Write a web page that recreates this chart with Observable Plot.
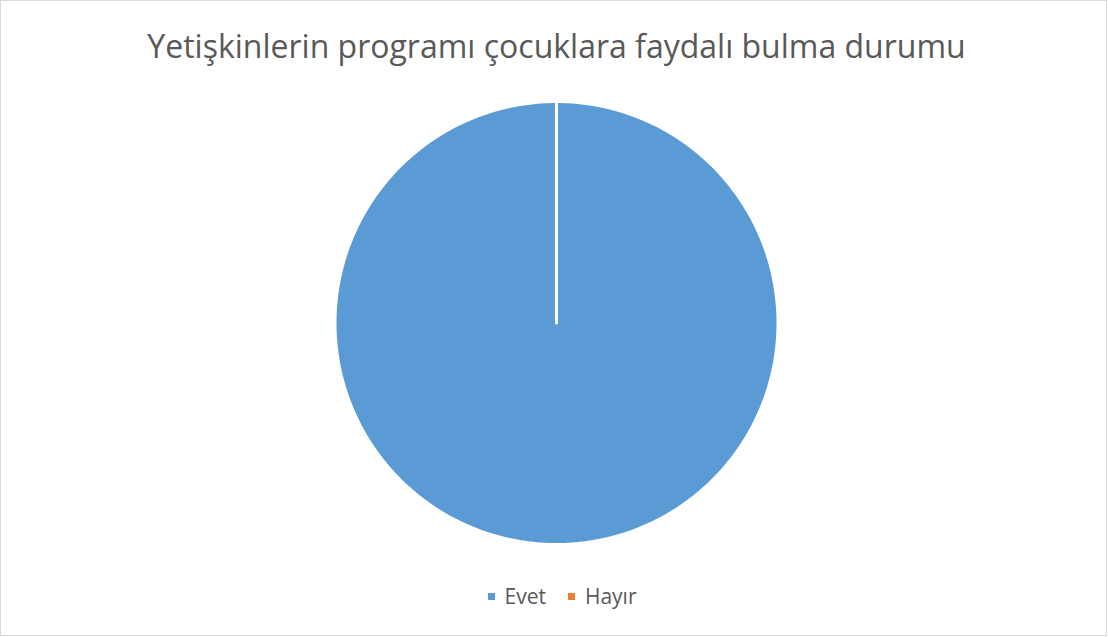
<!DOCTYPE html>
<html>
<head>
<meta charset="utf-8">
<script src="https://cdn.jsdelivr.net/npm/d3@7"></script>
<script src="https://cdn.jsdelivr.net/npm/@observablehq/plot@0.6"></script>
<style>
  html, body { margin: 0; padding: 0; background: #fff; }
  #chart { position: relative; width: 1108px; height: 637px; overflow: hidden; font-family: "Open Sans", sans-serif; }
  #frame { position: absolute; left: 0; top: 0; width: 1105px; height: 634px; border: 1px solid #d9d9d9; box-sizing: content-box; pointer-events: none; }
  #title { position: absolute; left: 0; width: 1113px; top: 24px; text-align: center; font-size: 32px; color: #595959; white-space: nowrap; }
  #legend { position: absolute; left: 8px; width: 1108px; top: 582px; display: flex; justify-content: center; gap: 22px; font-size: 21px; color: #595959; }
  .item { display: flex; align-items: center; gap: 10px; }
  .sw { width: 7px; height: 7px; display: inline-block; margin-top: 1px; }
  #plot { position: absolute; left: 0; top: 0; }
</style>
</head>
<body>
<div id="chart">
  <div id="plot"></div>
  <div id="title"></div>
  <div id="legend"></div>
  <div id="frame"></div>
</div>
<script>
const titleText = "Yetişkinlerin programı çocuklara faydalı bulma durumu";
const categories = ["Evet", "Hayır"];
const values = [100, 0];
const colors = ["#5b9bd5", "#ed7d31"];

const data = categories.map((c, i) => ({category: c, value: values[i]}));
const arcs = d3.pie().sort(null).value(d => d.value)(data);

// Build slice outlines in unit data space (angles from d3.pie, clockwise from top)
const pts = [];
for (const a of arcs) {
  const cat = a.data.category;
  pts.push({category: cat, u: 0, v: 0});
  const n = Math.max(2, Math.ceil((a.endAngle - a.startAngle) / (Math.PI / 180)));
  for (let k = 0; k <= n; k++) {
    const t = a.startAngle + (a.endAngle - a.startAngle) * k / n;
    pts.push({category: cat, u: Math.sin(t), v: Math.cos(t)});
  }
  pts.push({category: cat, u: 0, v: 0});
}

const plot = Plot.plot({
  width: 1108,
  height: 637,
  marginLeft: 334.5,
  marginRight: 330.5,
  marginTop: 101,
  marginBottom: 93,
  x: {domain: [-1, 1], axis: null},
  y: {domain: [-1, 1], axis: null},
  color: {domain: categories, range: colors},
  style: {background: "transparent"},
  marks: [
    Plot.line(pts.filter(d => d.category === "Evet"), {x: "u", y: "v", z: "category", fill: "category", stroke: "white", strokeWidth: 3, strokeLinejoin: "miter", curve: "linear"}),
    Plot.line(pts.filter(d => d.category === "Hayır"), {x: "u", y: "v", z: "category", fill: "category", stroke: "none", curve: "linear"})
  ]
});
document.getElementById("plot").appendChild(plot);

document.getElementById("title").textContent = titleText;
const legend = document.getElementById("legend");
categories.forEach((c, i) => {
  const it = document.createElement("div");
  it.className = "item";
  const sw = document.createElement("span");
  sw.className = "sw";
  sw.style.background = colors[i];
  const tx = document.createElement("span");
  tx.textContent = c;
  it.appendChild(sw); it.appendChild(tx);
  legend.appendChild(it);
});
</script>
</body>
</html>
